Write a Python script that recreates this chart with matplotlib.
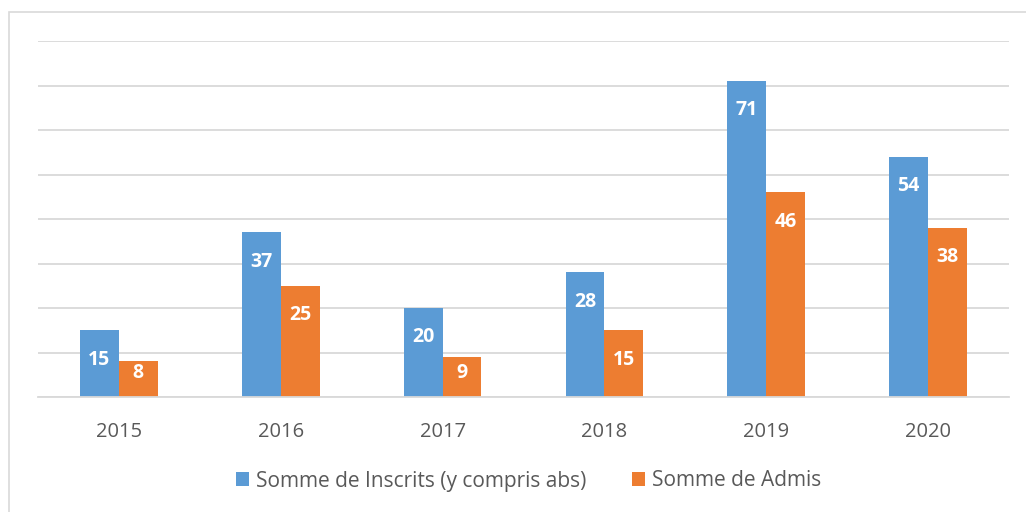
import numpy as np
import matplotlib
matplotlib.use('Agg')
import matplotlib.pyplot as plt
from matplotlib.patches import Rectangle

# data
years = ['2015', '2016', '2017', '2018', '2019', '2020']
inscrits = [15, 37, 20, 28, 71, 54]
admis = [8, 25, 9, 15, 46, 38]
series_names = ['Somme de Inscrits (y compris abs)', 'Somme de Admis']

plt.rcParams['font.family'] = ['Open Sans', 'DejaVu Sans']

blue = '#5B9BD5'
orange = '#ED7D31'

fig = plt.figure(figsize=(10.26, 5.12), dpi=100)
ax = fig.add_axes([38 / 1026, 1 - 397 / 512, (1009 - 38) / 1026, (397 - 41) / 512])

# outer chart frame (cut off on right and bottom as in the source)
fig.patches.append(Rectangle((9 / 1026, -0.1), 1.2, 1.1 - 12 / 512,
                             transform=fig.transFigure, fill=False,
                             edgecolor='#d9d9d9', linewidth=1.2))

x = np.arange(len(years))
w = 0.24
b1 = ax.bar(x - w / 2, inscrits, w, color=blue, label=series_names[0], zorder=3)
b2 = ax.bar(x + w / 2, admis, w, color=orange, label=series_names[1], zorder=3)

# data labels inside end of bars, kept above the axis for short bars
for bars, vals in ((b1, inscrits), (b2, admis)):
    for rect, v in zip(bars, vals):
        ypos = max(v - 6.6, 5.4)
        ax.text(rect.get_x() + rect.get_width() / 2, ypos, str(v),
                ha='center', va='center', color='white',
                fontsize=14, fontweight='bold', zorder=4)

ax.set_xlim(-0.5, len(years) - 0.5)
ax.set_ylim(0, 80)
ax.set_yticks(np.arange(0, 81, 10))
ax.yaxis.grid(True, color='#d9d9d9', linewidth=1.3, zorder=0)
ax.set_yticklabels([])
ax.tick_params(axis='y', length=0)
ax.set_xticks(x)
ax.set_xticklabels(years, fontsize=14.5, color='#595959')
ax.tick_params(axis='x', length=0, pad=18)
for s in ['top', 'right', 'left']:
    ax.spines[s].set_visible(False)
ax.spines['bottom'].set_color('#d9d9d9')
ax.spines['bottom'].set_linewidth(1.3)
ax.spines['bottom'].set_zorder(3.5)

fig.legend(handles=[b1, b2], loc='center', bbox_to_anchor=(0.515, 1 - 481 / 512),
           ncol=2, frameon=False, fontsize=15, handlelength=0.65, handleheight=0.65,
           handletextpad=0.3, columnspacing=2.2, labelcolor='#595959')

plt.savefig('out.png', dpi=100)
